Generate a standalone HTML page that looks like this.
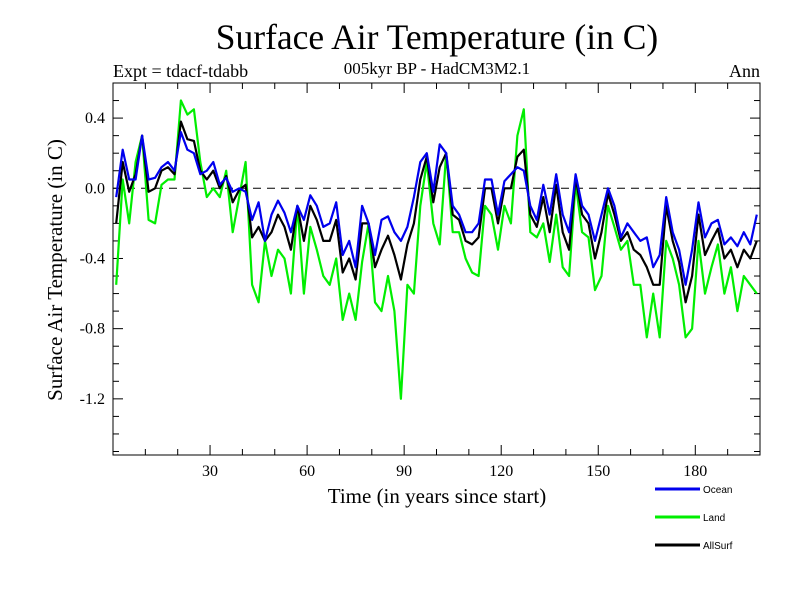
<!DOCTYPE html>
<html><head><meta charset="utf-8"><style>
html,body{margin:0;padding:0;background:#fff;}
svg{display:block;}
.serif{font-family:"Liberation Serif",serif;}
.sans{font-family:"Liberation Sans",sans-serif;}
</style></head><body>
<svg id="chart" width="800" height="600" viewBox="0 0 800 600">
<text class="serif" x="437" y="49" font-size="35.5" text-anchor="middle">Surface Air Temperature (in C)</text>
<text class="serif" x="113" y="77" font-size="18">Expt = tdacf-tdabb</text>
<text class="serif" x="437" y="74" font-size="17" text-anchor="middle">005kyr BP - HadCM3M2.1</text>
<text class="serif" x="760" y="77" font-size="18" text-anchor="end">Ann</text>
<text class="serif" x="0" y="0" font-size="21" text-anchor="middle" transform="translate(62,270) rotate(-90)">Surface Air Temperature (in C)</text>
<text class="serif" x="437" y="503" font-size="21" text-anchor="middle">Time (in years since start)</text>
<g id="axes"></g>
<g id="series"></g>
<g id="legend"></g>
</svg>
<script>
const years = [];
for (let y = 1; y <= 199; y += 2) years.push(y);
const ocean = [-0.05,0.22,0.05,0.05,0.3,0.05,0.06,0.12,0.15,0.1,0.32,0.22,0.2,0.08,0.1,0.15,0.02,0.06,-0.02,0.0,
-0.02,-0.18,-0.08,-0.3,-0.15,-0.07,-0.14,-0.25,-0.1,-0.18,-0.04,-0.1,-0.22,-0.2,-0.08,-0.38,-0.3,-0.45,-0.1,-0.2,
-0.38,-0.18,-0.16,-0.25,-0.3,-0.22,-0.05,0.15,0.2,-0.02,0.25,0.2,-0.1,-0.15,-0.25,-0.25,-0.2,0.05,0.05,-0.15,
0.04,0.08,0.12,0.1,-0.1,-0.18,0.02,-0.15,0.08,-0.15,-0.25,0.08,-0.1,-0.15,-0.3,-0.15,0.0,-0.1,-0.28,-0.2,
-0.25,-0.3,-0.28,-0.45,-0.38,-0.05,-0.25,-0.35,-0.55,-0.35,-0.08,-0.28,-0.2,-0.18,-0.32,-0.28,-0.33,-0.25,-0.32,-0.15];
const land = [-0.55,0.05,-0.2,0.15,0.3,-0.18,-0.2,0.02,0.05,0.05,0.5,0.42,0.45,0.15,-0.05,0.0,-0.05,0.1,-0.25,-0.05,
0.15,-0.55,-0.65,-0.3,-0.5,-0.35,-0.4,-0.6,-0.1,-0.6,-0.22,-0.35,-0.5,-0.55,-0.4,-0.75,-0.6,-0.75,-0.42,-0.2,
-0.65,-0.7,-0.5,-0.7,-1.2,-0.55,-0.6,-0.1,0.15,-0.2,-0.32,0.2,-0.25,-0.25,-0.4,-0.48,-0.5,-0.1,-0.15,-0.35,
-0.1,-0.2,0.3,0.45,-0.25,-0.28,-0.2,-0.42,-0.15,-0.45,-0.5,0.03,-0.25,-0.28,-0.58,-0.5,-0.1,-0.22,-0.35,-0.3,
-0.55,-0.55,-0.85,-0.6,-0.85,-0.3,-0.4,-0.55,-0.85,-0.8,-0.3,-0.6,-0.45,-0.32,-0.6,-0.45,-0.7,-0.5,-0.55,-0.6];
const allsurf = [-0.2,0.15,-0.02,0.08,0.3,-0.02,0.0,0.1,0.12,0.08,0.38,0.28,0.27,0.1,0.05,0.1,0.0,0.07,-0.08,-0.01,
0.02,-0.28,-0.22,-0.3,-0.25,-0.15,-0.22,-0.35,-0.1,-0.3,-0.1,-0.18,-0.3,-0.3,-0.18,-0.48,-0.4,-0.52,-0.2,-0.2,
-0.45,-0.35,-0.27,-0.38,-0.52,-0.32,-0.2,0.05,0.18,-0.08,0.12,0.2,-0.15,-0.18,-0.3,-0.32,-0.28,0.0,0.0,-0.2,
0.0,0.0,0.18,0.22,-0.15,-0.22,-0.05,-0.25,0.02,-0.25,-0.35,0.06,-0.15,-0.2,-0.4,-0.25,-0.03,-0.15,-0.3,-0.25,
-0.35,-0.38,-0.45,-0.55,-0.55,-0.1,-0.3,-0.42,-0.65,-0.5,-0.15,-0.38,-0.3,-0.23,-0.4,-0.35,-0.45,-0.35,-0.4,-0.3];
const yTickLabels = ["0.4","0.0","-0.4","-0.8","-1.2"];
const yTickValues = [0.4,0.0,-0.4,-0.8,-1.2];
const xTickLabels = ["30","60","90","120","150","180"];
const xTickValues = [30,60,90,120,150,180];

const NS = "http://www.w3.org/2000/svg";
const L = 113, R = 760, T = 83, B = 455;
const xMin = 0, xMax = 200, yMax = 0.6, yMin = -1.52;
const sx = v => L + (v - xMin) / (xMax - xMin) * (R - L);
const sy = v => T + (yMax - v) / (yMax - yMin) * (B - T);
function mk(tag, attrs, parent) {
  const e = document.createElementNS(NS, tag);
  for (const k in attrs) e.setAttribute(k, attrs[k]);
  parent.appendChild(e);
  return e;
}
const axes = document.getElementById('axes');
const frame = mk('rect', {x:L, y:T, width:R-L, height:B-T, fill:'none', stroke:'#000', 'stroke-width':1}, axes);


for (let i = -15; i <= 6; i++) {
  const v = i / 10, y = sy(v);
  if (y < T || y > B) continue;
  const major = (i % 4 === 0);
  const len = major ? 10 : 6;
  mk('line', {x1:L, y1:y, x2:L+len, y2:y, stroke:'#000'}, axes);
  mk('line', {x1:R, y1:y, x2:R-len, y2:y, stroke:'#000'}, axes);
}
for (let v = 10; v < 200; v += 10) {
  const x = sx(v), len = (v % 30 === 0) ? 10 : 6;
  mk('line', {x1:x, y1:B, x2:x, y2:B-len, stroke:'#000'}, axes);
  mk('line', {x1:x, y1:T, x2:x, y2:T+len, stroke:'#000'}, axes);
}
yTickValues.forEach((v, i) => {
  const t = mk('text', {x:L-8, y:sy(v)+5, 'font-size':16, 'text-anchor':'end', class:'serif'}, axes);
  t.textContent = yTickLabels[i];
  
  
});
xTickValues.forEach((v, i) => {
  const t = mk('text', {x:sx(v), y:B+21, 'font-size':16, 'text-anchor':'middle', class:'serif'}, axes);
  t.textContent = xTickLabels[i];
  
  
});
const zl = mk('line', {x1:L, y1:sy(0), x2:R, y2:sy(0), stroke:'#000', 'stroke-dasharray':'8,6'}, axes);



const sg = document.getElementById('series');
function drawSeries(vals, color, width, name) {
  const pts = vals.map((v, i) => sx(years[i]).toFixed(1) + ',' + sy(v).toFixed(1)).join(' ');
  const p = mk('polyline', {points:pts, fill:'none', stroke:color, 'stroke-width':width, 'stroke-linejoin':'round'}, sg);
  
  
}
drawSeries(land, '#00ee00', 2.2, 'land-line');
drawSeries(allsurf, '#000000', 2.2, 'allsurf-line');
drawSeries(ocean, '#0000ee', 2.2, 'ocean-line');

const lg = document.getElementById('legend');
[['Ocean','#0000ee',489],['Land','#00ee00',517],['AllSurf','#000000',545]].forEach(e => {
  const g = mk('g', {}, lg);
  
  
  mk('line', {x1:655, y1:e[2], x2:700, y2:e[2], stroke:e[1], 'stroke-width':3}, g);
  const t = mk('text', {x:703, y:e[2]+4, 'font-size':10, class:'sans'}, g);
  t.textContent = e[0];
});
</script>
</body></html>
